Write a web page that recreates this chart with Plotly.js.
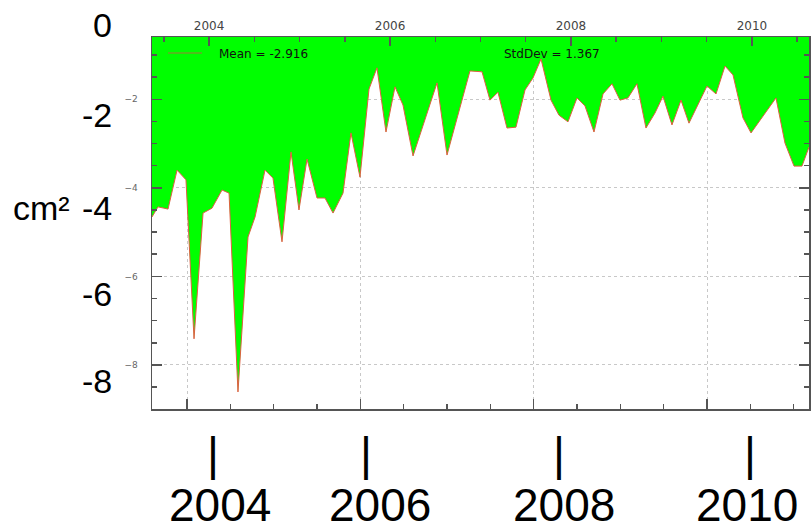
<!DOCTYPE html>
<html>
<head>
<meta charset="utf-8">
<script src="https://cdn.plot.ly/plotly-3.0.1.min.js"></script>
<style>html,body{margin:0;padding:0;background:#fff;}#chart{width:811px;height:531px;}</style>
</head>
<body>
<div id="chart"></div>
<script>
// ---- data (decimal year, cm²) ----
const dates = [2003.596,2003.665,2003.781,2003.885,2003.988,2004.081,2004.185,2004.288,2004.404,2004.485,
  2004.588,2004.704,2004.785,2004.900,2004.992,2005.096,2005.200,2005.292,2005.385,2005.500,
  2005.592,2005.685,2005.800,2005.892,2005.996,2006.100,2006.192,2006.296,2006.400,2006.492,
  2006.608,2006.885,2007.000,2007.265,2007.404,2007.496,2007.588,2007.692,2007.796,2007.900,
  2007.992,2008.085,2008.200,2008.292,2008.396,2008.500,2008.592,2008.696,2008.800,2008.904,
  2008.996,2009.088,2009.192,2009.296,2009.400,2009.492,2009.596,2009.700,2009.792,2010.000,
  2010.104,2010.208,2010.300,2010.415,2010.508,2010.796,2010.900,2011.004,2011.096,2011.177];
const values = [-4.66,-4.43,-4.48,-3.60,-3.82,-7.41,-4.57,-4.46,-4.05,-4.12,
  -8.61,-5.11,-4.66,-3.60,-3.78,-5.22,-3.19,-4.50,-3.35,-4.23,
  -4.23,-4.57,-4.12,-2.76,-3.76,-1.77,-1.29,-2.74,-1.72,-2.13,
  -3.28,-1.63,-3.26,-1.36,-1.38,-2.02,-1.84,-2.65,-2.63,-1.79,
  -1.52,-1.09,-2.02,-2.36,-2.51,-1.97,-2.15,-2.74,-1.88,-1.65,
  -2.02,-1.97,-1.65,-2.65,-2.31,-1.93,-2.58,-2.02,-2.54,-1.70,
  -1.88,-1.25,-1.45,-2.42,-2.76,-1.97,-2.99,-3.51,-3.51,-3.08];

// ---- labels ----
const meanLabel = 'Mean = -2.916';
const stdLabel = 'StdDev = 1.367';
const unitLabel = 'cm²';
const outerYLabels = ['0', '-2', '-4', '-6', '-8'];
const outerXLabels = ['2004', '2006', '2008', '2010'];
const outerXMark = '|';

// ---- layout helpers (pixel -> paper) ----
const W = 811, H = 531;
const px = v => v / W;
const py = v => 1 - v / H;

const lineColor = '#dd6040';
const frameColor = '#555555';
const gridColor = '#c8c8c8';
const innerFont = {family: 'DejaVu Sans', size: 12, color: '#444444'};

const trace = {
  x: dates, y: values, type: 'scatter', mode: 'lines',
  line: {color: lineColor, width: 1},
  fill: 'tozeroy', fillcolor: '#00ff00',
  hoverinfo: 'skip', showlegend: false
};

const outerYPos = [25, 115, 208, 294, 381];
const outerXPos = [220, 380, 564, 747];
const outerMarkPos = [213, 366, 559, 750];

const annotations = [];
outerYLabels.forEach((t, i) => annotations.push({
  text: t, xref: 'paper', yref: 'paper', x: px(114), y: py(outerYPos[i]),
  xanchor: 'right', yanchor: 'middle', showarrow: false,
  font: {family: 'Liberation Sans, Arial', size: 34, color: '#000'}
}));
annotations.push({
  text: unitLabel, xref: 'paper', yref: 'paper', x: px(72), y: py(208),
  xanchor: 'right', yanchor: 'middle', showarrow: false,
  font: {family: 'Liberation Sans, Arial', size: 34, color: '#000'}
});
outerXLabels.forEach((t, i) => {
  annotations.push({
    text: outerXMark, xref: 'paper', yref: 'paper', x: px(outerMarkPos[i]), y: py(454),
    xanchor: 'center', yanchor: 'middle', showarrow: false,
    font: {family: 'Liberation Sans, Arial', size: 46, color: '#000'}
  });
  annotations.push({
    text: t, xref: 'paper', yref: 'paper', x: px(outerXPos[i]), y: py(505),
    xanchor: 'center', yanchor: 'middle', showarrow: false,
    font: {family: 'Liberation Sans, Arial', size: 46, color: '#000'}
  });
});
annotations.push({
  text: meanLabel, xref: 'paper', yref: 'paper', x: px(217), y: py(54),
  xanchor: 'left', yanchor: 'middle', showarrow: false,
  font: {family: 'DejaVu Sans', size: 12, color: '#111'}
});
annotations.push({
  text: stdLabel, xref: 'paper', yref: 'paper', x: px(502), y: py(54),
  xanchor: 'left', yanchor: 'middle', showarrow: false,
  font: {family: 'DejaVu Sans', size: 12, color: '#111'}
});

const layout = {
  width: W, height: H,
  margin: {l: 0, r: 0, t: 0, b: 0},
  paper_bgcolor: '#ffffff', plot_bgcolor: '#ffffff',
  showlegend: false,
  xaxis: {
    domain: [px(152), px(809)], anchor: 'y',
    range: [2003.596, 2011.177],
    tick0: 2004, dtick: 2, ticks: 'inside', ticklen: 10, tickwidth: 1.5, tickcolor: frameColor,
    minor: {dtick: 0.5, tick0: 2004, ticks: 'inside', ticklen: 5, tickwidth: 1.5, tickcolor: frameColor, showgrid: false},
    showticklabels: false,
    showgrid: true, gridcolor: gridColor, griddash: 'dot', gridwidth: 1,
    showline: true, linecolor: frameColor, linewidth: 1.5, zeroline: false
  },
  xaxis2: {
    overlaying: 'x', side: 'top', anchor: 'y',
    range: [2003.369, 2010.631],
    tick0: 2004, dtick: 2, ticks: 'inside', ticklen: 9, tickwidth: 1.5, tickcolor: frameColor,
    minor: {dtick: 0.5, tick0: 2004, ticks: 'inside', ticklen: 5, tickwidth: 1.5, tickcolor: frameColor, showgrid: false},
    tickfont: innerFont, ticklabelstandoff: 1,
    showgrid: false, showline: true, linecolor: frameColor, linewidth: 1.5, zeroline: false
  },
  yaxis: {
    domain: [py(409), py(37)], anchor: 'x',
    range: [-8.995, -0.594],
    tick0: 0, dtick: 2, ticks: 'inside', ticklen: 10, tickwidth: 1.5, tickcolor: frameColor,
    minor: {dtick: 0.5, tick0: 0, ticks: 'inside', ticklen: 5, tickwidth: 1.5, tickcolor: frameColor, showgrid: false},
    tickfont: {family: 'DejaVu Sans', size: 9, color: '#666'}, ticklabelstandoff: 11,
    showgrid: true, gridcolor: gridColor, griddash: 'dot', gridwidth: 1,
    showline: true, linecolor: frameColor, linewidth: 1.5, mirror: 'ticks', zeroline: false
  },
  shapes: [{
    type: 'line', xref: 'paper', yref: 'paper',
    x0: px(168), x1: px(202), y0: py(53), y1: py(53),
    line: {color: '#a07a3a', width: 1}
  }],
  annotations: annotations
};

// invisible trace that activates the top axis
const topTrace = {x: [2004], y: [null], xaxis: 'x2', yaxis: 'y', type: 'scatter', mode: 'lines', showlegend: false, hoverinfo: 'skip'};

Plotly.newPlot('chart', [trace, topTrace], layout, {staticPlot: true, displayModeBar: false});
</script>
</body>
</html>
